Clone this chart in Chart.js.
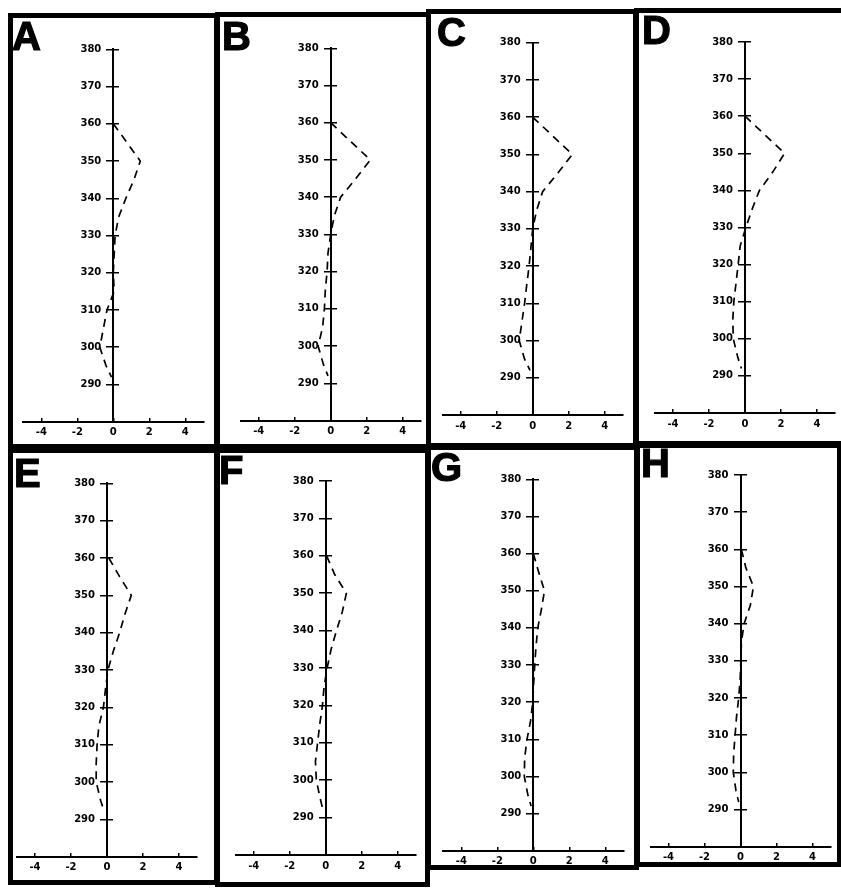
<!DOCTYPE html>
<html>
<head>
<meta charset="utf-8">
<script src="https://cdn.jsdelivr.net/npm/chart.js@4.4.1/dist/chart.umd.min.js"></script>
<style>
  html, body { margin: 0; padding: 0; background: #fff; }
  body { position: relative; width: 841px; height: 891px; overflow: hidden; }
  .panel { position: absolute; background: #fff; box-shadow: 0 0 0 5px #000; }
  .panel canvas { position: absolute; left: 0; top: 0; }
  .letra { position: absolute; z-index: 5; color: #000; font-family: 'Liberation Sans Narrow', 'Liberation Sans', sans-serif;
           font-weight: bold; font-size: 40px; line-height: 40px; -webkit-text-stroke: 1.2px #000; }
</style>
</head>
<body>
<script>
// Alturas (eje vertical) donde se leen los perfiles
const niveles = [360, 355, 350, 345, 340, 335, 330, 325, 320, 315, 310, 305, 300, 295, 292];

// Desplazamiento horizontal de la linea discontinua en cada panel
const perfilA = [0, 0.75, 1.5, 1.15, 0.7, 0.3, 0.1, 0.05, 0, 0.05, -0.35, -0.55, -0.75, -0.4, -0.1];
const perfilB = [0, 1.1, 2.2, 1.4, 0.55, 0.2, 0, -0.15, -0.2, -0.3, -0.35, -0.45, -0.7, -0.4, -0.15];
const perfilC = [0, 1.1, 2.2, 1.4, 0.55, 0.22, 0, -0.1, -0.2, -0.33, -0.45, -0.6, -0.75, -0.45, -0.15];
const perfilD = [0, 1.1, 2.2, 1.55, 0.8, 0.4, 0.05, -0.27, -0.38, -0.5, -0.62, -0.68, -0.65, -0.4, -0.2];
const perfilE = [0.1, 0.7, 1.35, 1.0, 0.7, 0.35, 0.05, -0.08, -0.2, -0.45, -0.55, -0.6, -0.6, -0.35, -0.15];
const perfilF = [0.05, 0.5, 1.15, 0.92, 0.6, 0.3, 0.08, -0.09, -0.18, -0.33, -0.45, -0.57, -0.52, -0.3, -0.15];
const perfilG = [0, 0.3, 0.62, 0.45, 0.25, 0.15, 0.08, 0.02, -0.03, -0.15, -0.35, -0.48, -0.5, -0.3, -0.12];
const perfilH = [0.05, 0.3, 0.72, 0.55, 0.2, 0.05, 0.02, -0.02, -0.1, -0.22, -0.3, -0.38, -0.4, -0.25, -0.1];

// Marcas de los ejes
const ticksX = [-4, -2, 0, 2, 4];
const ticksY = [290, 300, 310, 320, 330, 340, 350, 360, 370, 380];
const letras = ['A', 'B', 'C', 'D', 'E', 'F', 'G', 'H'];
const perfiles = [perfilA, perfilB, perfilC, perfilD, perfilE, perfilF, perfilG, perfilH];

// Colocacion en la pagina: celda [x, y, ancho, alto], cero del eje X, marca 380, linea del eje X, letra
const celdas = [
  [13, 18, 201, 426], [220, 17, 206, 427], [431, 14, 202, 429], [639, 13, 202, 428],
  [13, 453, 201, 427], [220, 453, 205, 429], [431, 450, 203, 415], [640, 448, 197, 414]
];
const ejes = [
  [113.3, 49.3, 421.7], [330.7, 48.3, 420.5], [532.7, 42.7, 415], [745, 42, 413],
  [107, 483.3, 856.7], [325.7, 481, 855], [533.3, 479.3, 850.7], [740.5, 475, 846.7]
];
const posLetras = [[12, 16], [222, 16], [437, 12], [642, 10], [14, 453], [219, 450], [431, 447], [641, 443]];

const fuente = { family: 'DejaVu Sans', weight: 'bold', size: 10 };
const medioAncho = 90; // de 0 a 5 en el eje X

perfiles.forEach((perfil, i) => {
  const [cx, cy, w, h] = celdas[i];
  const [x0, y380, y280] = ejes[i];

  const panel = document.createElement('div');
  panel.className = 'panel';
  panel.style.cssText = `left:${cx}px;top:${cy}px;width:${w}px;height:${h}px;`;
  const canvas = document.createElement('canvas');
  canvas.width = w; canvas.height = h;
  canvas.style.width = w + 'px'; canvas.style.height = h + 'px';
  panel.appendChild(canvas);
  document.body.appendChild(panel);

  const letra = document.createElement('div');
  letra.className = 'letra';
  letra.textContent = letras[i];
  letra.style.left = posLetras[i][0] + 'px';
  letra.style.top = posLetras[i][1] + 'px';
  document.body.appendChild(letra);

  // Crea la grafica del perfil
  new Chart(canvas.getContext('2d'), {
    type: 'scatter',
    data: {
      datasets: [{
        data: niveles.map((y, j) => ({ x: perfil[j], y: y })),
        showLine: true,
        borderColor: '#000',
        borderWidth: 1.7,
        borderDash: [8, 6],
        pointRadius: 0,
        tension: 0
      }]
    },
    options: {
      responsive: false,
      animation: false,
      events: [],
      layout: {
        autoPadding: false,
        padding: {
          left: x0 - medioAncho - cx,
          right: cx + w - (x0 + medioAncho),
          top: y380 - cy,
          bottom: cy + h - y280
        }
      },
      plugins: { legend: { display: false }, tooltip: { enabled: false } },
      scales: {
        x: {
          type: 'linear', position: { y: 280 }, min: -5, max: 5,
          afterBuildTicks: s => { s.ticks = ticksX.map(v => ({ value: v })); },
          afterFit: s => { s.height = 0; },
          border: { display: true, color: '#000', width: 2 },
          grid: { drawOnChartArea: false, color: '#000', lineWidth: 1.5, tickLength: -5 },
          ticks: { color: '#000', font: fuente, padding: 10, maxRotation: 0, autoSkip: false }
        },
        y: {
          type: 'linear', position: { x: 0 }, min: 280, max: 380,
          afterBuildTicks: s => { s.ticks = ticksY.map(v => ({ value: v })); },
          afterFit: s => { s.width = 0; },
          border: { display: true, color: '#000', width: 2 },
          grid: { drawOnChartArea: false, color: '#000', lineWidth: 1.5, tickLength: 6 },
          // separacion entre la etiqueta y el eje
          ticks: { color: '#000', font: fuente, autoSkip: false, callback: v => v + '\u2002\u2002\u2009' }
        },
        y2: {
          type: 'linear', position: { x: 0 }, min: 280, max: 380,
          afterBuildTicks: s => { s.ticks = ticksY.map(v => ({ value: v })); },
          afterFit: s => { s.width = 0; },
          border: { display: false },
          grid: { drawOnChartArea: false, color: '#000', lineWidth: 1.5, tickLength: -6 },
          ticks: { display: false }
        }
      }
    }
  });
});
</script>
</body>
</html>
